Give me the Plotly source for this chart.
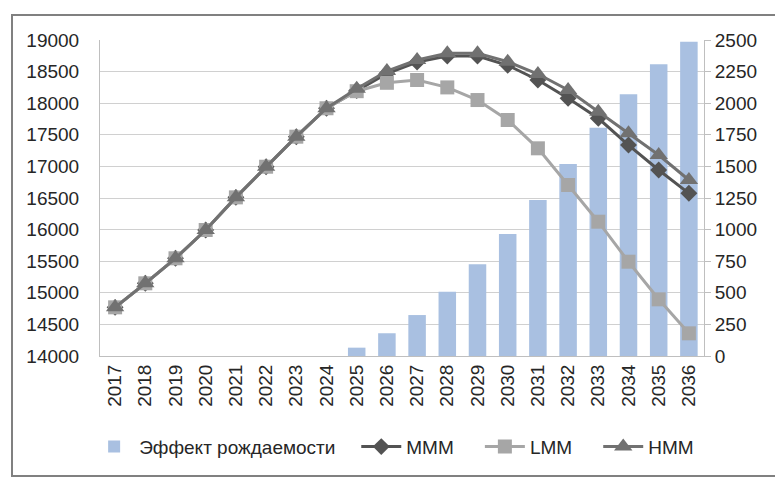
import plotly.graph_objects as go

years = [str(y) for y in range(2017, 2037)]

effect = [None, None, None, None, None, None, None, None,
          66, 180, 324, 509, 725, 965, 1234, 1519, 1806, 2070, 2309, 2487]

mmm = [14770, 15150, 15546, 15994, 16510, 16995, 17470, 17920,
       18200, 18470, 18650, 18745, 18745, 18600, 18367, 18077, 17761, 17338, 16943, 16574]
lmm = [14770, 15150, 15546, 15994, 16510, 16995, 17470, 17920,
       18190, 18323, 18367, 18250, 18050, 17734, 17286, 16706, 16125, 15492, 14897, 14359]
hmm = [14770, 15150, 15546, 15994, 16510, 16995, 17470, 17920,
       18230, 18509, 18684, 18790, 18790, 18657, 18462, 18209, 17865, 17523, 17180, 16785]

FONT = "Liberation Sans"
NB = "\u00a0"

fig = go.Figure()

fig.add_trace(go.Bar(
    x=years, y=effect, name="Эффект рождаемости" + NB * 3,
    marker={"color": "#a9c0e1", "line": {"width": 0}},
    width=0.58, yaxis="y",
))

lines = [
    ("MMM" + NB * 4, mmm, "#535353", "diamond", 13, 3),
    ("LMM" + NB * 4, lmm, "#a6a6a6", "square", 14, 3),
    ("HMM", hmm, "#717171", "triangle-up", 16, 3),
]
for name, vals, color, symbol, size, width in lines:
    fig.add_trace(go.Scatter(
        x=years, y=vals, name=name, mode="lines+markers",
        line={"color": color, "width": width},
        marker={"symbol": symbol, "size": size, "color": color},
        yaxis="y2",
    ))

# page body adds an 8px margin, so the figure is 8px smaller and offset
fig.update_layout(
    width=775, height=473,
    paper_bgcolor="white", plot_bgcolor="white",
    margin={"l": 92, "r": 79, "t": 32, "b": 125, "autoexpand": False},
    font={"family": FONT, "size": 19, "color": "#262626"},
    showlegend=True,
    legend={"orientation": "h", "x": -0.018, "xanchor": "left",
            "y": -0.227, "yanchor": "top", "font": {"size": 19},
            "itemwidth": 40, "tracegroupgap": 0},
    xaxis=dict(
        type="category", tickangle=-90, showgrid=False,
        range=[-0.5, len(years) - 0.5],
        showline=True, linecolor="#bfbfbf", linewidth=1,
        ticks="", tickfont={"size": 19},
    ),
    yaxis=dict(
        side="right", range=[0, 2500], dtick=250, tickformat="d",
        showgrid=True, gridcolor="#d0d0d0", gridwidth=1,
        showline=True, linecolor="#bfbfbf",
        ticks="outside", ticklen=6, tickcolor="#bfbfbf",
        zeroline=False, tickfont={"size": 19},
    ),
    yaxis2=dict(
        side="left", overlaying="y", range=[14000, 19000], dtick=500,
        tickformat="d", showgrid=False, showline=True, linecolor="#bfbfbf",
        zeroline=False, tickfont={"size": 19}, ticks="",
        ticklabelstandoff=16,
    ),
)

# chart-area frame
fig.add_shape(type="rect", xref="paper", yref="paper",
              x0=-0.1457, x1=1.1258, y0=-0.380, y1=1.079,
              line={"color": "#808080", "width": 2})

fig.write_html("out.html")
